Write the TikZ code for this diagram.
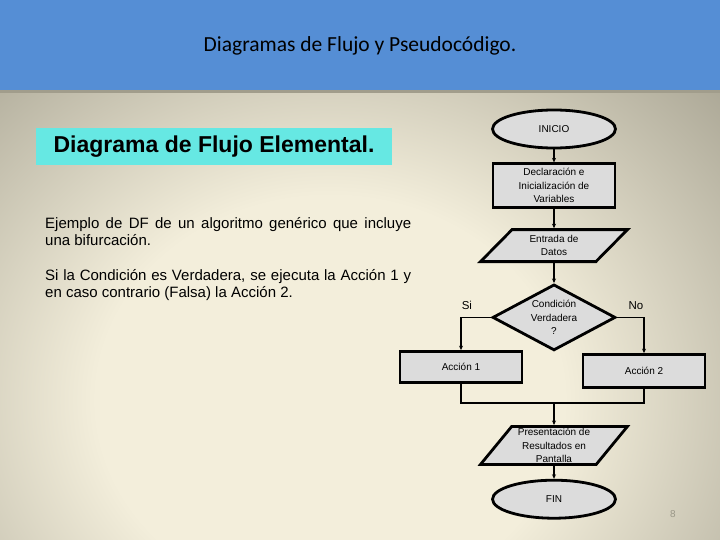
\documentclass[tikz,border=0pt]{standalone}
\usepackage{fontspec}
\setmainfont{Liberation Sans}
\newfontfamily\calibrifont{Carlito}
\usetikzlibrary{positioning,arrows.meta,shapes.geometric}
\definecolor{FigureBlue}{HTML}{558ED5}
\definecolor{FigureCyan}{HTML}{66E8E3}
\definecolor{FigureGray}{HTML}{DCDCDC}
\definecolor{FigureCream}{HTML}{F3EEDB}
\definecolor{FigureTaupe}{HTML}{A19D8C}
\definecolor{FigurePage}{HTML}{9A9788}
\pgfdeclareradialshading{fondo}{\pgfpoint{0bp}{0bp}}{color(0bp)=(FigureCream); color(15bp)=(FigureCream); color(37bp)=(FigureTaupe); color(50bp)=(FigureTaupe)}

\begin{document}
\begin{tikzpicture}[x=1pt,y=-1pt,>={Stealth[length=4.5pt,width=4pt]},node distance=16pt,
  caja/.style={draw,line width=2.8pt,fill=FigureGray,font=\fontsize{10}{13.5}\selectfont,align=center,inner sep=1pt},
  terminal/.style={caja,ellipse,minimum width=123pt,minimum height=38pt},
  proceso/.style={caja,rectangle,minimum width=122pt},
  datos/.style={caja,trapezium,trapezium stretches=true,minimum width=147pt},
  decision/.style={caja,diamond,aspect=1.85,minimum width=123pt,minimum height=66pt,inner sep=0pt},
  conector/.style={->,line width=1.6pt},
  linea/.style={line width=1.6pt},
  etiqueta/.style={font=\fontsize{11.5}{13}\selectfont,inner sep=0pt,yshift=7pt}]
  \useasboundingbox (0,0) rectangle (720,540);
  \fill[FigureBlue] (0,0) rectangle (720,91);
  \begin{scope}
    \clip (0,91) rectangle (720,540);
    \shade[shading=fondo] (-60,60) rectangle (720,740);
  \end{scope}
  \fill[FigureTaupe] (0,90) rectangle (720,93);
  \node[font=\calibrifont\fontsize{21.5}{25}\selectfont,anchor=base] (titulo) at (360,52) {Diagramas de Flujo y Pseudocódigo.};
  \node[fill=FigureCyan,minimum width=356pt,minimum height=37pt,inner sep=0pt,font=\bfseries\fontsize{23}{26}\selectfont] (subtitulo) at (214,146.5) {Diagrama de Flujo Elemental.};
  \node[anchor=north west,inner sep=0pt,text width=366pt,align=justify,font=\fontsize{15}{17}\selectfont] (texto) at (45,217)
    {Ejemplo de DF de un algoritmo genérico que incluye\linebreak una bifurcación.\par\vspace{18pt}Si la Condición es Verdadera, se ejecuta la Acción 1 y\linebreak en caso contrario (Falsa) la Acción 2.};

  \node[terminal] (inicio) at (554,129) {INICIO};
  \node[proceso,minimum height=44pt,below=13pt of inicio] (declara) {Declaración e\\Inicialización de\\Variables};
  \node[datos,trapezium left angle=50,trapezium right angle=130,minimum height=32pt,below=19pt of declara] (entrada) {Entrada de\\Datos};
  \node[decision,below=20pt of entrada] (condicion) {Condición\\Verdadera\\?};
  \node[proceso,minimum height=31pt] (accion1) at (461,367) {Acción 1};
  \node[proceso,minimum height=33pt] (accion2) at (644,371) {Acción 2};
  \coordinate (union) at (554,403);
  \node[datos,trapezium left angle=53,trapezium right angle=127,minimum height=38pt,anchor=north] (salida) at (554,425) {Presentación de\\Resultados en\\Pantalla};
  \node[terminal,below=13pt of salida] (fin) {FIN};
  \node[text=FigurePage,font=\fontsize{10}{12}\selectfont] (pagina) at (673,514) {8};

  \draw[conector] (inicio) -- (declara);
  \draw[conector] (declara) -- (entrada);
  \draw[conector] (entrada) -- (condicion);
  \draw[conector] (condicion.west) -| node[pos=0.5,anchor=south west,etiqueta] (si) {Si} (accion1.north);
  \draw[conector] (condicion.east) -| node[pos=0.5,anchor=south east,etiqueta] (no) {No} (accion2.north);
  \draw[linea] (accion1.south) |- (union) -| (accion2.south);
  \draw[conector] (union) -- (salida);
  \draw[conector] (salida) -- (fin);
\end{tikzpicture}
\end{document}
